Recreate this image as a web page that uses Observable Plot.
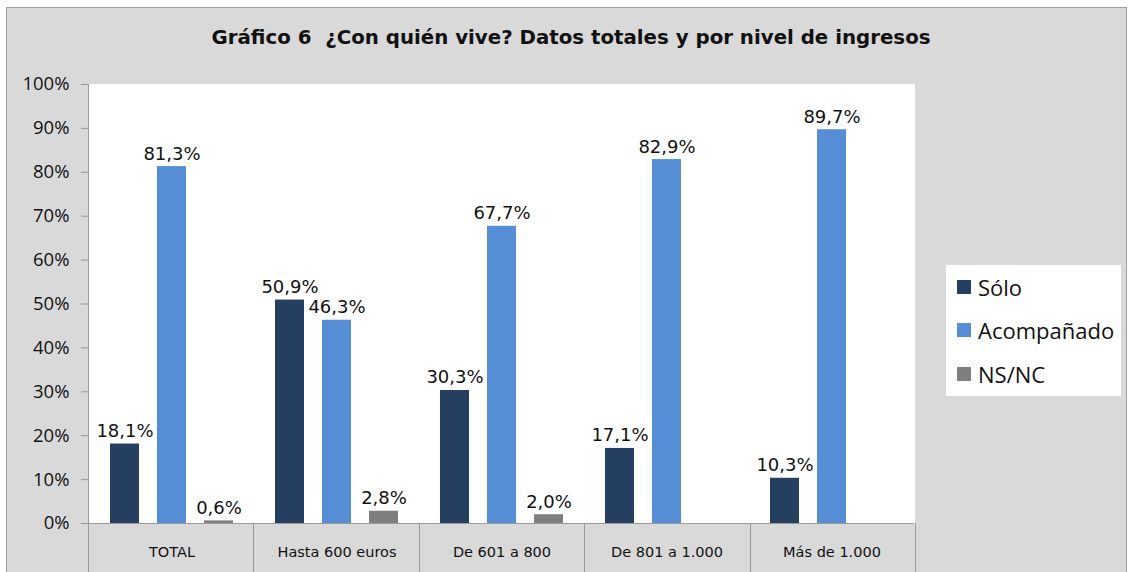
<!DOCTYPE html>
<html><head><meta charset="utf-8">
<script src="https://cdn.jsdelivr.net/npm/d3@7"></script>
<script src="https://cdn.jsdelivr.net/npm/@observablehq/plot@0.6"></script>
<style>
body{margin:0;background:#fff;}
#chart{position:relative;width:1129px;height:572px;overflow:hidden;background:#fff;}
#panel{position:absolute;left:6px;top:7px;width:1121px;height:580px;background:#d9d9d9;border:1px solid #a0a0a0;box-sizing:border-box;}
#title{position:absolute;left:0;top:26px;width:1142px;text-align:center;font:bold 19.8px "DejaVu Sans",sans-serif;color:#111;white-space:pre;}
#plot{position:absolute;left:0;top:60px;}
#legend{position:absolute;left:946px;top:265px;width:175px;height:131px;background:#fff;}
.row{height:43.5px;display:flex;align-items:center;padding-left:11px;font:22px "Open Sans",sans-serif;color:#111;}
.sw{width:14px;height:14px;margin-right:7px;flex:none;}
</style></head>
<body>
<div id="chart">
  <div id="panel"></div>
  <div id="title"></div>
  <div id="plot"></div>
  <div id="legend"></div>
</div>
<script>
const titleText = "Gráfico 6  ¿Con quién vive? Datos totales y por nivel de ingresos";
const categories = ["TOTAL", "Hasta 600 euros", "De 601 a 800", "De 801 a 1.000", "Más de 1.000"];
const series = ["Sólo", "Acompañado", "NS/NC"];
const colors = ["#243f60", "#558ed5", "#7f7f7f"];
const solo = [18.1, 50.9, 30.3, 17.1, 10.3];
const acompanado = [81.3, 46.3, 67.7, 82.9, 89.7];
const nsnc = [0.6, 2.8, 2.0, null, null];
const yTicks = [0, 10, 20, 30, 40, 50, 60, 70, 80, 90, 100];

document.getElementById("title").textContent = titleText;

const values = [solo, acompanado, nsnc];
const data = [];
categories.forEach((c, i) => series.forEach((s, j) => {
  if (values[j][i] != null) data.push({cat: c, serie: s, value: values[j][i]});
}));
const fmt = v => v.toFixed(1).replace(".", ",") + "%";

const plot = Plot.plot({
  width: 930,
  height: 512,
  marginLeft: 88,
  marginRight: 15,
  marginTop: 24,
  marginBottom: 49,
  style: {background: "transparent", color: "#111"},
  fx: {domain: categories, padding: 0, label: null},
  x: {domain: series, paddingInner: 0.39, paddingOuter: 0.44, axis: null},
  y: {domain: [0, 100], label: null},
  color: {domain: series, range: colors},
  marks: [
    Plot.frame({fill: "white", stroke: "white"}),
    Plot.ruleY([0], {stroke: "#999"}),
    Plot.barY(data, {fx: "cat", x: "serie", y: "value", fill: "serie"}),
    Plot.text(data, {fx: "cat", x: "serie", y: "value", text: d => fmt(d.value), lineAnchor: "bottom", dy: -7, fontSize: 18, fontFamily: "DejaVu Sans", fill: "#111"}),
    Plot.axisY({ticks: yTicks, tickFormat: d => d + "%", tickSize: 8, tickPadding: 12, fontSize: 18.5, fontFamily: "Open Sans", stroke: "#999", label: null}),
    Plot.axisFx({anchor: "bottom", tickSize: 0, tickPadding: 23, fontSize: 14.5, fontFamily: "DejaVu Sans", label: null})
  ]
});

// category separators from the fx and y scales
const fxS = plot.scale("fx");
const yS = plot.scale("y");
const band = d3.scaleBand().domain(fxS.domain).range(fxS.range).padding(0);
const y0 = yS.apply(0), yTop = yS.apply(100);
const svg = d3.select(plot);
const edges = categories.map(c => band(c)).concat([band.range()[1]]);
svg.append("g").attr("stroke", "#999").selectAll("line").data(edges).join("line")
  .attr("x1", d => Math.round(d) + 0.5).attr("x2", d => Math.round(d) + 0.5)
  .attr("y1", (d, i) => i === 0 ? yTop : y0).attr("y2", 512);

document.getElementById("plot").appendChild(plot);

const legend = d3.select("#legend");
series.forEach((s, i) => {
  const r = legend.append("div").attr("class", "row");
  r.append("div").attr("class", "sw").style("background", colors[i]);
  r.append("span").text(s);
});
</script>
</body></html>
